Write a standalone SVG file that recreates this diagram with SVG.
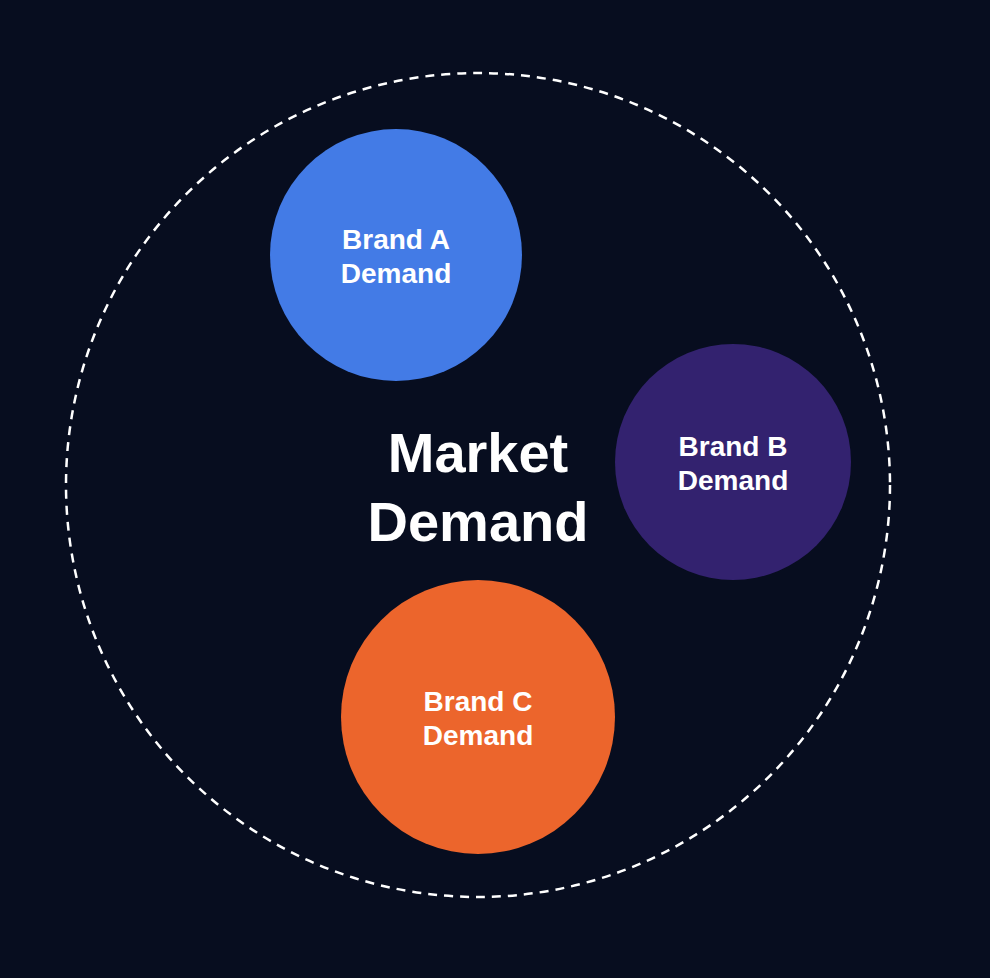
<svg xmlns="http://www.w3.org/2000/svg" width="990" height="978" viewBox="0 0 990 978">
<style>
.lbl{font-family:"Liberation Sans",Arial,sans-serif;font-weight:bold;fill:#ffffff;text-anchor:middle}
.brand{font-size:28px}
.main{font-size:56px}
</style>
<rect width="990" height="978" fill="#070d1f"/>
<g id="market">
<circle cx="478" cy="485" r="412" fill="none" stroke="#ffffff" stroke-width="2.5" stroke-dasharray="9 7"/>
<text class="lbl main" x="478" y="472">Market</text>
<text class="lbl main" x="478" y="541">Demand</text>
</g>
<g id="brandA">
<circle cx="396" cy="255" r="126" fill="#437be6"/>
<text class="lbl brand" x="396" y="249">Brand A</text>
<text class="lbl brand" x="396" y="283">Demand</text>
</g>
<g id="brandB">
<circle cx="733" cy="462" r="118" fill="#33226f"/>
<text class="lbl brand" x="733" y="456">Brand B</text>
<text class="lbl brand" x="733" y="490">Demand</text>
</g>
<g id="brandC">
<circle cx="478" cy="717" r="137" fill="#ec652c"/>
<text class="lbl brand" x="478" y="711">Brand C</text>
<text class="lbl brand" x="478" y="745">Demand</text>
</g>
<g id="connectors"/>
</svg>
